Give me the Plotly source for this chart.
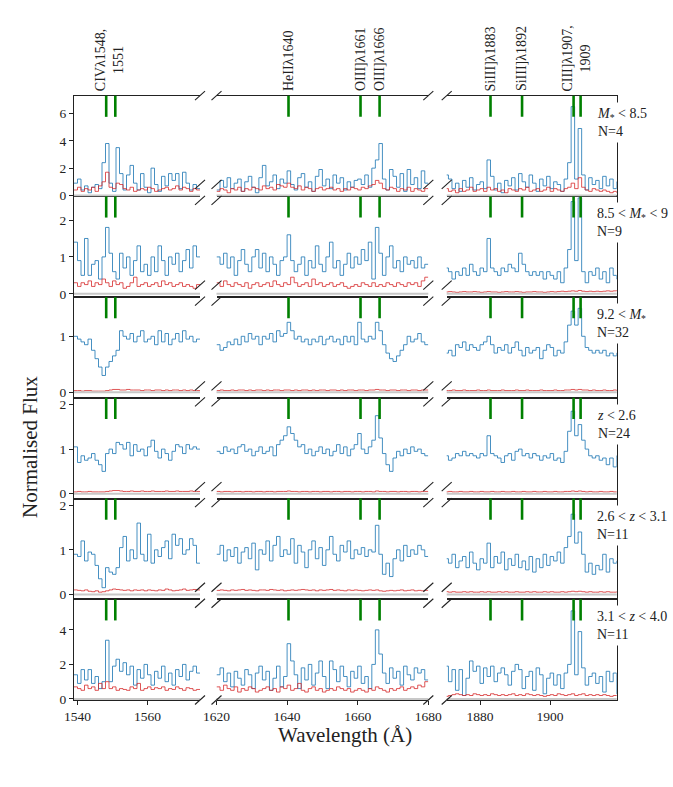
import plotly.graph_objects as go

# stacked UV spectra, three wavelength windows per row (1 A bins)
bin_start = [1539, 1620, 1870]
x_ranges = [[1539, 1575], [1620, 1680], [1870.5, 1919]]
x_ticks = [[1540, 1560], [1620, 1640, 1660, 1680], [1880, 1900]]

line_waves = [1548.2, 1550.8, 1640.4, 1660.8, 1666.2, 1883.0, 1892.0, 1906.7, 1908.7]
label_text = ["CIVλ1548,<br>1551", "HeIIλ1640", "OIII]λ1661", "OIII]λ1666",
              "SiIII]λ1883", "SiIII]λ1892", "CIII]λ1907,<br>1909"]
label_waves = [1549.2, 1640.4, 1660.8, 1666.2, 1883.0, 1892.0, 1907.4]

bin_names = ["<i>M</i><sub>*</sub> &lt; 8.5", "8.5 &lt; <i>M</i><sub>*</sub> &lt; 9",
             "9.2 &lt; <i>M</i><sub>*</sub>", "<i>z</i> &lt; 2.6",
             "2.6 &lt; <i>z</i> &lt; 3.1", "3.1 &lt; <i>z</i> &lt; 4.0"]
bin_counts = [4, 9, 32, 24, 11, 11]
y_ranges = [[-0.07, 7.3], [-0.09, 2.64], [-0.1, 1.7], [-0.11, 2.15], [-0.11, 2.15], [-0.06, 5.77]]
y_ticks = [[0, 2, 4, 6], [0, 1, 2], [0, 1], [0, 1, 2], [0, 1, 2], [0, 2, 4]]

# row 1: M* < 8.5
flux_1a = [0.9, 1.2, 0.4, 0.7, 0.2, 0.6, 0.8, 0.5, 2.4, 3.8, 0.9, 0.3, 3.5, 1.6, 0.4, 1.5, 2.2, 0.9,
           0.4, 1.6, 0.6, 0.2, 2.0, 0.8, 0.3, 1.4, 0.7, 1.6, 1.1, 1.6, 0.5, 1.7, 0.9, 0.4, 0.8, 0.5]
err_1a = [0.4, 0.6, 0.3, 0.5, 0.4, 0.6, 0.3, 0.7, 1.0, 1.7, 0.6, 0.5, 0.9, 0.8, 0.5, 0.4, 0.6, 0.3,
          0.4, 0.5, 0.4, 0.6, 0.5, 0.3, 0.4, 0.5, 0.6, 0.4, 0.5, 0.7, 0.4, 0.6, 0.5, 0.3, 0.5, 0.4]
flux_1b = [0.4, 1.1, 0.6, 1.3, 0.5, 0.9, 1.2, 0.3, 1.0, 1.4, 0.6, 0.2, 1.3, 2.2, 0.7, 1.0, 1.5, 0.5,
           1.2, 0.9, 1.8, 0.8, 0.4, 1.3, 1.6, 0.6, 1.0, 0.3, 1.4, 1.9, 0.7, 1.2, 0.5, 1.5, 0.9, 1.3,
           0.4, 1.0, 0.6, 1.1, 1.2, 0.8, 1.5, 0.6, 2.0, 2.6, 3.8, 1.2, 0.4, 1.9, 1.4, 0.6, 1.6, 0.3,
           1.9, 0.8, 1.3, 0.5, 1.8, 0.9]
err_1b = [0.3, 0.5, 0.4, 0.2, 0.5, 0.4, 0.6, 0.3, 0.5, 0.4, 0.6, 0.5, 0.4, 0.7, 0.5, 0.6, 0.4, 0.8,
          0.7, 0.6, 0.9, 0.6, 0.5, 0.7, 0.4, 0.6, 0.5, 0.3, 0.5, 0.6, 0.4, 0.5, 0.6, 0.4, 0.5, 0.3,
          0.5, 0.4, 0.6, 0.5, 0.4, 0.6, 0.5, 0.7, 0.8, 1.1, 0.9, 0.5, 0.4, 0.6, 0.5, 0.3, 0.5, 0.4,
          0.6, 0.3, 0.5, 0.4, 0.3, 0.5]
flux_1c = [1.5, 1.2, 0.5, 0.9, 0.3, 1.1, 0.6, 1.3, 0.4, 0.8, 1.0, 0.5, 2.6, 1.4, 0.4, 0.9, 0.2, 1.1,
           0.7, 1.3, 0.4, 1.6, 1.0, 0.6, 1.5, 0.9, 0.3, 1.2, 0.7, 1.4, 0.5, 1.0, 0.8, 0.3, 1.2, 2.4,
           6.5, 1.2, 4.9, 1.5, 0.4, 1.3, 0.8, 1.1, 0.5, 1.4, 0.7, 1.2, 0.5, 1.0]
err_1c = [0.5, 0.3, 0.4, 0.2, 0.5, 0.3, 0.4, 0.6, 0.3, 0.4, 0.5, 0.3, 0.6, 0.4, 0.5, 0.3, 0.4, 0.2,
          0.5, 0.4, 0.3, 0.5, 0.4, 0.6, 0.3, 0.4, 0.5, 0.3, 0.4, 0.6, 0.3, 0.5, 0.4, 0.3, 0.5, 0.6,
          0.9, 0.5, 1.3, 0.6, 0.4, 0.3, 0.5, 0.4, 0.3, 0.4, 0.3, 0.2, 0.3, 0.2]

# row 2: 8.5 < M* < 9
flux_2a = [1.4, 0.9, 0.5, 1.5, 0.5, 0.8, 0.9, 0.4, 1.0, 1.8, 1.1, 0.6, 0.4, 1.1, 0.7, 1.0, 0.5, 0.9,
           1.3, 0.6, 0.8, 0.5, 1.0, 0.6, 1.3, 0.9, 0.5, 1.0, 0.8, 1.1, 0.6, 0.9, 1.2, 0.7, 1.3, 1.0]
err_2a = [0.3, 0.2, 0.3, 0.25, 0.35, 0.2, 0.3, 0.25, 0.4, 0.3, 0.2, 0.35, 0.25, 0.3, 0.15, 0.2, 0.3,
          0.45, 0.2, 0.25, 0.3, 0.2, 0.25, 0.3, 0.2, 0.35, 0.25, 0.3, 0.2, 0.25, 0.3, 0.2, 0.25, 0.2,
          0.15, 0.25]
flux_2b = [1.0, 0.8, 1.1, 0.7, 1.0, 0.5, 0.9, 1.2, 0.8, 0.6, 1.0, 1.2, 0.7, 1.1, 0.6, 1.0, 0.8, 0.5,
           0.9, 1.0, 1.6, 0.9, 0.6, 0.8, 1.0, 0.5, 0.9, 0.7, 1.3, 0.8, 0.6, 1.0, 1.4, 0.7, 0.9, 0.5,
           0.8, 1.1, 0.7, 1.0, 0.8, 1.2, 0.9, 1.4, 0.4, 1.8, 1.1, 0.5, 1.0, 1.3, 0.7, 0.9, 0.6, 1.0,
           0.8, 0.9, 0.7, 1.0, 0.7, 0.8]
err_2b = [0.3, 0.2, 0.35, 0.25, 0.2, 0.3, 0.25, 0.2, 0.3, 0.15, 0.25, 0.3, 0.2, 0.25, 0.3, 0.2, 0.35,
          0.25, 0.2, 0.3, 0.25, 0.45, 0.3, 0.2, 0.25, 0.3, 0.2, 0.4, 0.25, 0.3, 0.2, 0.25, 0.3, 0.2,
          0.25, 0.3, 0.2, 0.15, 0.2, 0.25, 0.2, 0.3, 0.25, 0.2, 0.3, 0.2, 0.25, 0.2, 0.3, 0.25, 0.2,
          0.3, 0.25, 0.2, 0.3, 0.25, 0.3, 0.2, 0.35, 0.45]
flux_2c = [0.7, 0.6, 0.4, 0.6, 0.5, 0.7, 0.5, 0.8, 0.6, 0.5, 0.7, 0.6, 1.5, 0.7, 0.6, 0.5, 0.7, 0.6,
           0.8, 0.7, 0.6, 1.1, 0.8, 0.6, 0.5, 0.6, 0.5, 0.6, 0.4, 0.6, 0.5, 0.4, 0.6, 0.3, 0.7, 1.2,
           2.5, 0.9, 2.6, 0.6, 0.3, 0.6, 0.5, 0.7, 0.4, 0.6, 0.3, 0.7, 0.5, 0.4]
err_2c = [0.05, 0.06, 0.05, 0.04, 0.05, 0.06, 0.05, 0.05, 0.06, 0.05, 0.04, 0.05, 0.06, 0.05, 0.05,
          0.04, 0.05, 0.06, 0.05, 0.05, 0.06, 0.05, 0.04, 0.05, 0.05, 0.06, 0.05, 0.05, 0.04, 0.05,
          0.06, 0.05, 0.06, 0.07, 0.06, 0.07, 0.08, 0.07, 0.09, 0.07, 0.06, 0.07, 0.06, 0.07, 0.06,
          0.07, 0.08, 0.07, 0.08, 0.09]

# row 3: 9.2 < M*
flux_3a = [1.0, 0.95, 0.9, 0.85, 0.95, 0.75, 0.6, 0.45, 0.3, 0.45, 0.55, 0.65, 0.75, 1.1, 1.0, 0.95,
           1.05, 0.9, 1.0, 1.1, 0.9, 0.95, 1.0, 0.85, 1.1, 0.9, 1.05, 0.85, 0.95, 1.05, 0.9, 1.1, 0.95,
           1.0, 0.9, 0.95]
err_3a = [0.03, 0.03, 0.02, 0.03, 0.03, 0.02, 0.02, 0.02, 0.02, 0.03, 0.04, 0.05, 0.05, 0.04, 0.04,
          0.05, 0.04, 0.04, 0.04, 0.03, 0.04, 0.04, 0.03, 0.04, 0.04, 0.03, 0.04, 0.03, 0.04, 0.04,
          0.03, 0.04, 0.03, 0.04, 0.03, 0.03]
flux_3b = [0.85, 0.75, 0.8, 0.9, 0.85, 0.95, 0.85, 1.0, 0.9, 1.05, 0.95, 1.0, 0.85, 1.0, 0.95, 1.05,
           0.9, 1.1, 1.0, 1.05, 1.25, 1.1, 0.95, 1.0, 0.9, 0.95, 0.85, 0.95, 0.9, 1.0, 0.85, 0.95, 1.0,
           0.9, 0.95, 0.85, 1.0, 0.9, 1.0, 0.85, 1.25, 0.95, 0.9, 1.0, 0.95, 1.25, 1.1, 0.85, 0.7,
           0.6, 0.55, 0.65, 0.75, 0.85, 1.0, 0.9, 0.95, 1.05, 0.9, 0.85]
err_3b = [0.03, 0.04, 0.03, 0.03, 0.04, 0.03, 0.04, 0.04, 0.03, 0.04, 0.03, 0.04, 0.04, 0.03, 0.04,
          0.03, 0.04, 0.04, 0.03, 0.04, 0.04, 0.03, 0.04, 0.03, 0.04, 0.04, 0.03, 0.04, 0.03, 0.04,
          0.04, 0.03, 0.04, 0.04, 0.03, 0.04, 0.03, 0.04, 0.04, 0.03, 0.04, 0.04, 0.03, 0.04, 0.04,
          0.05, 0.04, 0.04, 0.03, 0.04, 0.04, 0.03, 0.04, 0.04, 0.03, 0.04, 0.04, 0.03, 0.04, 0.04]
flux_3c = [0.7, 0.75, 0.65, 0.85, 0.8, 0.9, 0.75, 0.85, 0.8, 0.75, 0.85, 0.9, 1.0, 0.85, 0.7, 0.8,
           0.75, 0.85, 0.7, 0.8, 0.9, 0.75, 0.65, 0.8, 0.7, 0.75, 0.8, 0.6, 0.75, 0.85, 0.8, 0.65,
           0.75, 0.7, 0.9, 1.2, 1.45, 1.2, 1.5, 1.0, 0.8, 0.75, 0.7, 0.75, 0.7, 0.75, 0.65, 0.7, 0.65,
           0.7]
err_3c = [0.03, 0.03, 0.04, 0.03, 0.03, 0.04, 0.03, 0.03, 0.03, 0.04, 0.03, 0.03, 0.04, 0.03, 0.03,
          0.03, 0.04, 0.03, 0.03, 0.03, 0.04, 0.03, 0.03, 0.04, 0.03, 0.03, 0.03, 0.04, 0.03, 0.03,
          0.03, 0.04, 0.03, 0.03, 0.04, 0.04, 0.05, 0.04, 0.05, 0.04, 0.04, 0.03, 0.04, 0.03, 0.03,
          0.04, 0.03, 0.03, 0.04, 0.03]

# row 4: z < 2.6
flux_4a = [1.05, 0.7, 0.85, 0.75, 0.8, 0.9, 0.75, 0.65, 0.5, 0.9, 1.0, 0.9, 1.15, 1.1, 1.0, 1.15,
           0.85, 1.1, 0.95, 1.0, 0.85, 1.05, 1.2, 0.95, 0.8, 1.0, 0.9, 0.75, 0.95, 1.1, 1.05, 0.9,
           1.1, 1.0, 1.05, 1.0]
err_4a = [0.04, 0.05, 0.04, 0.04, 0.05, 0.04, 0.04, 0.04, 0.04, 0.05, 0.06, 0.07, 0.07, 0.06, 0.05,
          0.05, 0.06, 0.05, 0.05, 0.06, 0.05, 0.05, 0.06, 0.05, 0.05, 0.05, 0.06, 0.05, 0.05, 0.06,
          0.05, 0.05, 0.05, 0.06, 0.05, 0.05]
flux_4b = [0.95, 0.9, 1.05, 0.95, 1.0, 0.9, 1.05, 1.1, 0.95, 1.0, 0.85, 0.95, 1.05, 0.9, 0.95, 1.05,
           0.85, 1.1, 1.2, 1.3, 1.5, 1.35, 1.2, 1.05, 1.1, 0.9, 1.0, 0.85, 0.95, 1.05, 0.9, 1.0, 0.85,
           0.95, 1.1, 0.9, 1.05, 0.85, 1.0, 1.1, 1.35, 1.0, 0.9, 1.05, 1.2, 1.75, 1.25, 0.9, 0.65,
           0.5, 0.8, 0.95, 0.85, 1.0, 0.9, 1.05, 0.95, 1.0, 0.9, 0.85]
err_4b = [0.05, 0.04, 0.05, 0.05, 0.04, 0.05, 0.05, 0.04, 0.05, 0.05, 0.04, 0.05, 0.05, 0.04, 0.05,
          0.05, 0.04, 0.05, 0.05, 0.05, 0.06, 0.05, 0.05, 0.04, 0.05, 0.05, 0.04, 0.05, 0.05, 0.04,
          0.05, 0.05, 0.04, 0.05, 0.05, 0.04, 0.05, 0.05, 0.04, 0.05, 0.05, 0.04, 0.05, 0.05, 0.04,
          0.06, 0.05, 0.05, 0.04, 0.05, 0.05, 0.04, 0.05, 0.05, 0.04, 0.05, 0.05, 0.04, 0.05, 0.05]
flux_4c = [0.85, 0.75, 0.8, 0.9, 0.85, 0.95, 0.85, 0.9, 0.85, 0.8, 0.9, 0.85, 1.3, 0.9, 0.85, 0.8,
           0.7, 0.85, 0.9, 0.75, 0.95, 1.0, 0.85, 0.9, 0.8, 0.9, 0.85, 0.75, 0.85, 0.8, 0.9, 0.75, 0.8,
           0.7, 0.95, 1.4, 1.85, 1.3, 1.55, 1.2, 1.0, 0.85, 0.8, 0.85, 0.75, 0.8, 0.65, 0.8, 0.6, 0.85]
err_4c = [0.04, 0.05, 0.04, 0.04, 0.05, 0.04, 0.04, 0.05, 0.04, 0.04, 0.05, 0.04, 0.04, 0.05, 0.04,
          0.04, 0.05, 0.04, 0.04, 0.05, 0.04, 0.04, 0.05, 0.04, 0.04, 0.05, 0.04, 0.04, 0.05, 0.04,
          0.04, 0.05, 0.04, 0.04, 0.05, 0.05, 0.06, 0.05, 0.06, 0.05, 0.04, 0.05, 0.04, 0.04, 0.05,
          0.04, 0.04, 0.05, 0.04, 0.04]

# row 5: 2.6 < z < 3.1
flux_5a = [0.9, 0.85, 1.2, 0.75, 0.95, 0.9, 0.65, 0.35, 0.15, 0.6, 0.5, 0.45, 0.6, 1.05, 1.3, 0.75,
           1.0, 0.8, 1.6, 0.9, 0.75, 1.35, 0.7, 1.0, 0.85, 1.05, 1.2, 0.8, 1.35, 1.1, 1.25, 0.9, 1.0,
           1.25, 1.1, 0.7]
err_5a = [0.1, 0.09, 0.08, 0.1, 0.07, 0.06, 0.08, 0.05, 0.06, 0.08, 0.1, 0.12, 0.11, 0.1, 0.09, 0.1,
          0.08, 0.1, 0.09, 0.1, 0.08, 0.1, 0.09, 0.08, 0.1, 0.09, 0.12, 0.1, 0.08, 0.09, 0.1, 0.12,
          0.09, 0.1, 0.11, 0.1]
flux_5b = [0.9, 1.1, 0.75, 1.0, 0.85, 1.05, 0.7, 0.95, 1.05, 0.8, 1.15, 0.55, 1.0, 0.9, 1.2, 0.75,
           1.1, 1.3, 0.85, 1.0, 0.9, 1.25, 0.7, 1.1, 0.95, 0.6, 1.0, 1.2, 0.8, 1.05, 0.65, 1.0, 1.3,
           0.9, 0.75, 1.1, 0.95, 1.2, 0.8, 1.0, 0.9, 1.05, 0.85, 1.0, 0.95, 1.55, 0.9, 0.45, 0.7, 0.4,
           0.8, 1.0, 0.75, 1.1, 0.85, 1.0, 0.9, 1.1, 1.0, 0.85]
err_5b = [0.09, 0.1, 0.09, 0.08, 0.1, 0.09, 0.1, 0.11, 0.09, 0.1, 0.09, 0.08, 0.1, 0.1, 0.09, 0.11,
          0.1, 0.09, 0.1, 0.08, 0.09, 0.1, 0.09, 0.1, 0.11, 0.1, 0.09, 0.1, 0.08, 0.1, 0.09, 0.1, 0.11,
          0.09, 0.1, 0.09, 0.08, 0.1, 0.09, 0.1, 0.09, 0.08, 0.09, 0.1, 0.09, 0.1, 0.08, 0.07, 0.08,
          0.09, 0.08, 0.09, 0.1, 0.08, 0.09, 0.1, 0.08, 0.09, 0.08, 0.09]
flux_5c = [0.8, 0.7, 0.9, 0.6, 0.75, 0.85, 0.6, 0.95, 0.7, 0.55, 0.8, 0.7, 1.15, 0.6, 0.85, 0.7,
           0.95, 0.55, 0.8, 0.65, 0.9, 0.6, 0.75, 0.55, 0.85, 0.5, 0.8, 0.6, 0.9, 0.65, 0.85, 0.75,
           0.95, 0.7, 1.05, 1.3, 1.8, 1.15, 1.4, 0.9, 0.5, 0.7, 0.45, 0.65, 0.55, 0.9, 0.5, 0.8, 0.7,
           0.75]
err_5c = [0.06, 0.05, 0.06, 0.05, 0.05, 0.06, 0.05, 0.06, 0.05, 0.05, 0.06, 0.05, 0.06, 0.05, 0.05,
          0.06, 0.05, 0.06, 0.05, 0.05, 0.06, 0.05, 0.05, 0.06, 0.05, 0.06, 0.05, 0.05, 0.06, 0.05,
          0.06, 0.05, 0.05, 0.06, 0.05, 0.06, 0.07, 0.06, 0.07, 0.06, 0.05, 0.06, 0.05, 0.05, 0.06,
          0.05, 0.06, 0.05, 0.05, 0.06]

# row 6: 3.1 < z < 4.0
flux_6a = [1.4, 0.9, 1.7, 1.1, 1.7, 0.9, 1.3, 0.6, 1.0, 3.4, 1.0, 1.9, 2.3, 1.6, 2.1, 1.4, 1.9, 0.8,
           1.7, 1.2, 2.0, 1.4, 0.8, 1.6, 1.2, 1.9, 1.0, 1.5, 0.8, 1.7, 1.3, 2.0, 1.1, 1.6, 1.9, 1.5]
err_6a = [0.7, 0.6, 0.5, 0.8, 0.6, 0.7, 0.5, 0.9, 0.6, 1.0, 0.6, 0.7, 0.5, 0.6, 0.55, 0.5, 0.7, 0.6,
          0.9, 0.5, 0.6, 0.7, 0.55, 0.65, 0.6, 0.7, 0.5, 0.6, 0.55, 0.7, 0.6, 0.5, 0.65, 0.6, 0.5,
          0.55]
flux_6b = [1.4, 1.8, 1.0, 1.5, 0.7, 1.6, 1.2, 0.8, 1.7, 1.4, 0.6, 1.5, 1.9, 1.1, 1.6, 0.5, 1.2, 1.9,
           0.7, 1.3, 3.2, 2.2, 1.4, 0.6, 1.8, 1.1, 2.0, 0.8, 1.5, 2.2, 1.3, 0.6, 2.2, 1.7, 1.0, 1.9,
           1.3, 0.7, 1.6, 1.2, 1.9, 0.9, 1.3, 0.6, 2.0, 4.0, 2.6, 1.5, 0.9, 1.8, 1.2, 1.6, 0.8, 1.9,
           1.4, 1.1, 1.8, 1.5, 1.7, 1.1]
err_6b = [0.7, 0.5, 0.8, 0.6, 0.5, 0.7, 0.4, 0.6, 0.5, 0.7, 0.6, 0.4, 0.5, 0.6, 0.7, 0.5, 0.6, 0.4,
          0.7, 0.6, 0.8, 0.5, 0.6, 0.9, 0.5, 0.4, 0.6, 0.7, 0.5, 0.6, 0.4, 0.5, 0.6, 0.5, 0.7, 0.6,
          0.5, 0.6, 0.4, 0.5, 0.6, 0.5, 0.4, 0.6, 0.5, 0.7, 0.6, 0.5, 0.4, 0.6, 0.5, 0.6, 0.7, 0.5,
          0.6, 0.7, 0.6, 0.8, 0.7, 1.0]
flux_6c = [1.9, 1.0, 1.7, 0.5, 1.7, 0.2, 1.2, 2.2, 1.6, 1.9, 0.9, 1.8, 1.3, 1.9, 1.0, 1.5, 1.8, 1.4,
           0.8, 1.6, 2.0, 1.7, 0.6, 1.3, 1.6, 0.5, 1.8, 1.4, 0.3, 1.2, 1.5, 0.8, 1.4, 0.6, 1.5, 2.0,
           5.1, 1.4, 3.9, 1.8, 0.8, 1.3, 1.5, 0.9, 1.3, 0.4, 1.6, 1.0, 1.5, 0.3]
err_6c = [0.15, 0.2, 0.25, 0.3, 0.25, 0.2, 0.25, 0.2, 0.3, 0.25, 0.2, 0.25, 0.2, 0.3, 0.25, 0.2,
          0.25, 0.2, 0.25, 0.3, 0.2, 0.25, 0.2, 0.3, 0.25, 0.2, 0.25, 0.2, 0.15, 0.2, 0.25, 0.2, 0.3,
          0.25, 0.2, 0.25, 0.3, 0.2, 0.25, 0.3, 0.2, 0.25, 0.2, 0.25, 0.2, 0.25, 0.2, 0.15, 0.2, 0.2]

flux = [[flux_1a, flux_1b, flux_1c], [flux_2a, flux_2b, flux_2c], [flux_3a, flux_3b, flux_3c],
        [flux_4a, flux_4b, flux_4c], [flux_5a, flux_5b, flux_5c], [flux_6a, flux_6b, flux_6c]]
errs = [[err_1a, err_1b, err_1c], [err_2a, err_2b, err_2c], [err_3a, err_3b, err_3c],
        [err_4a, err_4b, err_4c], [err_5a, err_5b, err_5c], [err_6a, err_6b, err_6c]]

# page geometry in pixels
W, H = 673, 787
col_px = [(74, 200), (216.5, 428.3), (446.7, 616.7)]
top_px, row_h = 95.7, (700 - 95.7) / 6

FONT = "Liberation Serif"
BLUE = "rgba(31,119,180,0.82)"
RED = "rgba(214,39,40,0.78)"


def px_x(px):
    return px / W


def px_y(py):
    return 1 - py / H


fig = go.Figure()
shapes = []
annotations = []
layout = {}

for r in range(6):
    y_top = top_px + r * row_h
    y_bot = y_top + row_h
    for c in range(3):
        n = r * 3 + c + 1
        sfx = "" if n == 1 else str(n)
        vals = flux[r][c]
        err = errs[r][c]
        xs = [bin_start[c] + i for i in range(len(vals) + 1)]
        fig.add_trace(go.Scatter(x=xs, y=vals + [vals[-1]], mode="lines", line_shape="hv",
                                 line=dict(color=BLUE, width=1.0), xaxis="x" + sfx, yaxis="y" + sfx,
                                 showlegend=False, hoverinfo="skip"))
        xe = [bin_start[c] + i for i in range(len(err) + 1)]
        fig.add_trace(go.Scatter(x=xe, y=err + [err[-1]], mode="lines", line_shape="hv",
                                 line=dict(color=RED, width=1.0), xaxis="x" + sfx, yaxis="y" + sfx,
                                 showlegend=False, hoverinfo="skip"))

        bottom = r == 5
        layout["xaxis" + sfx] = dict(
            domain=[px_x(col_px[c][0]), px_x(col_px[c][1])], anchor="y" + sfx,
            range=x_ranges[c], showgrid=False, zeroline=False, automargin=False,
            showline=True, mirror=True, linecolor="#222", linewidth=1.3,
            tickvals=x_ticks[c], showticklabels=bottom, ticks="outside" if bottom else "",
            ticklen=4, tickcolor="#222", tickfont=dict(family=FONT, size=13.5, color="#222"))
        ydict = dict(
            domain=[px_y(y_bot), px_y(y_top)], anchor="x" + sfx, range=y_ranges[r],
            showgrid=False, zeroline=False, automargin=False, linecolor="#222", linewidth=1.3,
            tickfont=dict(family=FONT, size=13.5, color="#222"))
        if c == 0:
            ydict.update(showline=True, tickvals=y_ticks[r], ticks="outside", ticklen=4,
                         tickcolor="#222")
        elif c == 2:
            ydict.update(showline=True, side="right", showticklabels=False, ticks="")
        else:
            ydict.update(showline=False, showticklabels=False, ticks="")
        layout["yaxis" + sfx] = ydict

        # grey zero line
        shapes.append(dict(type="line", xref="x" + sfx + " domain", yref="y" + sfx,
                           x0=0, x1=1, y0=0, y1=0, line=dict(color="#c8c8c8", width=2)))
        # emission line markers
        for wv in line_waves:
            if x_ranges[c][0] <= wv <= x_ranges[c][1]:
                shapes.append(dict(type="line", xref="x" + sfx, yref="y" + sfx + " domain",
                                   x0=wv, x1=wv, y0=0.79, y1=1.0,
                                   line=dict(color="green", width=2.6)))
        # line names above the top row
        if r == 0:
            for txt, wv in zip(label_text, label_waves):
                if x_ranges[c][0] <= wv <= x_ranges[c][1]:
                    annotations.append(dict(text=txt, x=wv, xref="x" + sfx, y=px_y(93.5),
                                            yref="paper", xanchor="center", yanchor="bottom",
                                            textangle=-90, showarrow=False,
                                            font=dict(family=FONT, size=14, color="#222")))

    # broken-axis slashes between the windows
    cy_top = y_top if r == 0 else y_top + 4
    cy_bot = y_bot if r == 5 else y_bot - 12
    for ex in [col_px[0][1], col_px[1][0], col_px[1][1], col_px[2][0]]:
        for cy in [cy_top, cy_bot]:
            shapes.append(dict(type="line", xref="paper", yref="paper",
                               x0=px_x(ex - 5), x1=px_x(ex + 5), y0=px_y(cy + 4.5), y1=px_y(cy - 4.5),
                               line=dict(color="#222", width=1.1)))

    # sample label on the right
    annotations.append(dict(text=bin_names[r] + "<br>N=" + str(bin_counts[r]),
                            x=px_x(593), y=px_y(y_top + 6), xref="paper", yref="paper",
                            xanchor="left", yanchor="top", align="left", showarrow=False,
                            bgcolor="white", borderpad=3,
                            font=dict(family=FONT, size=14, color="#222")))

annotations.append(dict(text="Normalised Flux", x=px_x(30), y=px_y(447), xref="paper", yref="paper",
                        xanchor="center", yanchor="middle", textangle=-90, showarrow=False,
                        font=dict(family=FONT, size=21, color="#222")))
annotations.append(dict(text="Wavelength (Å)", x=px_x(345), y=px_y(735), xref="paper", yref="paper",
                        xanchor="center", yanchor="middle", showarrow=False,
                        font=dict(family=FONT, size=21, color="#222")))

fig.update_layout(width=W, height=H, autosize=False,
                  margin=dict(l=0, r=0, t=0, b=0, pad=0, autoexpand=False),
                  paper_bgcolor="white", plot_bgcolor="white", showlegend=False,
                  shapes=shapes, annotations=annotations, **layout)

# drop the page's default body margin so the figure sits at the window corner
fig.write_html("out.html", config={"displayModeBar": False, "responsive": False},
               post_script="document.body.style.margin='0';")
